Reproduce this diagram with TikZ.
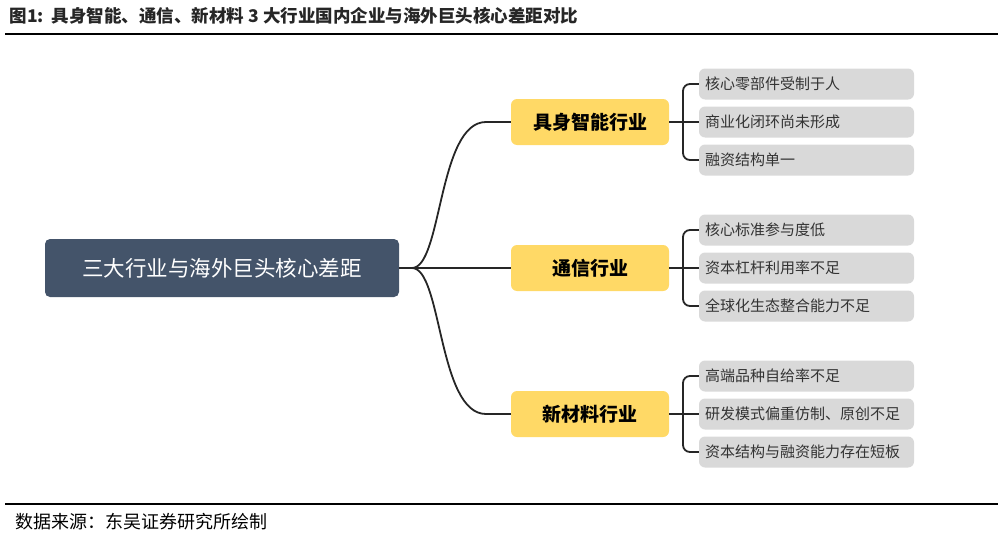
\documentclass[tikz,border=0pt]{standalone}
\usepackage{fontspec}
\newfontfamily\cjk{Noto Sans CJK SC}
\begin{document}
\begin{tikzpicture}[x=1pt,y=-1pt,
  root/.style={rectangle,rounded corners=5pt,fill=rootc,text=white,minimum width=354pt,minimum height=58pt,font=\cjk\fontsize{21.5}{23}\selectfont},
  br/.style={rectangle,rounded corners=6pt,fill=brc,minimum width=158pt,minimum height=46pt,font=\cjk\bfseries\fontsize{19}{21}\selectfont},
  leaf/.style={rectangle,rounded corners=6pt,fill=leafc,minimum width=215pt,minimum height=31pt,text width=203pt,align=left,font=\cjk\fontsize{15}{17}\selectfont,text=black!80},
  ln/.style={line width=1.8pt,draw=black!85}]
\definecolor{rootc}{HTML}{44546A}
\definecolor{brc}{HTML}{FFD966}
\definecolor{leafc}{HTML}{D9D9D9}
\useasboundingbox (0,0) rectangle (1004,538);
\node[anchor=west,font=\cjk\bfseries\fontsize{17.5}{19}\selectfont,text=black!85] (title) at (6,16) {图1:\ \ 具身智能、通信、新材料 3 大行业国内企业与海外巨头核心差距对比};
\draw[line width=1.4pt] (5,34) -- (998,34);
\draw[line width=1.4pt] (5,504) -- (998,504);
\node[anchor=west,font=\cjk\fontsize{18}{20}\selectfont] (src) at (12,522) {数据来源：东吴证券研究所绘制};
\node[root] (r) at (222,268) {三大行业与海外巨头核心差距};
\node[br] (b1) at (590,122) {具身智能行业};
\node[br] (b2) at (590,268) {通信行业};
\node[br] (b3) at (590,414) {新材料行业};
\node[leaf] (l11) at (806.5,84) {核心零部件受制于人};
\node[leaf] (l12) at (806.5,122) {商业化闭环尚未形成};
\node[leaf] (l13) at (806.5,160) {融资结构单一};
\node[leaf] (l21) at (806.5,230) {核心标准参与度低};
\node[leaf] (l22) at (806.5,268) {资本杠杆利用率不足};
\node[leaf] (l23) at (806.5,306) {全球化生态整合能力不足};
\node[leaf] (l31) at (806.5,376) {高端品种自给率不足};
\node[leaf] (l32) at (806.5,414) {研发模式偏重仿制、原创不足};
\node[leaf] (l33) at (806.5,452) {资本结构与融资能力存在短板};
\coordinate (j) at (412,268);
\coordinate (k1) at (683,122);
\coordinate (k2) at (683,268);
\coordinate (k3) at (683,414);
\draw[ln] (r.east) -- (j) -- (b2.west);
\draw[ln] (j) .. controls (442,268) and (438,122) .. (486,122) -- (b1.west);
\draw[ln] (j) .. controls (442,268) and (438,414) .. (486,414) -- (b3.west);
\foreach \i in {1,2,3}{
  \draw[ln,rounded corners=7pt] (l\i1.west) -| (k\i) |- (l\i3.west);
  \draw[ln] (b\i.east) -- (l\i2.west);
}
\end{tikzpicture}
\end{document}
